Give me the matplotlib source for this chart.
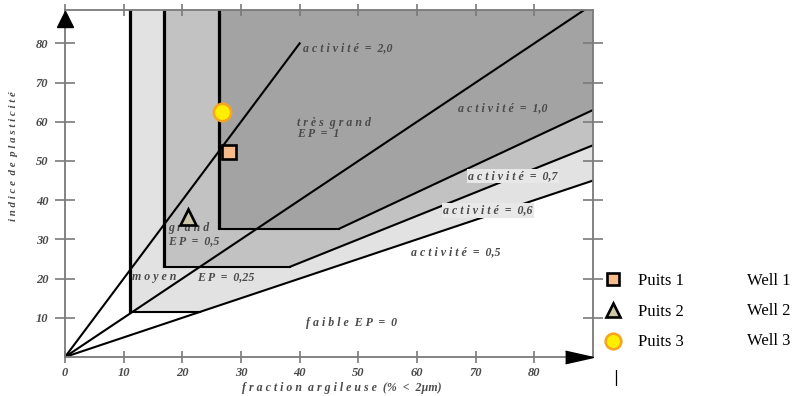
import matplotlib
matplotlib.use("Agg")
import matplotlib.pyplot as plt
from matplotlib.lines import Line2D

# ---- data ----
wells = ["Puits 1", "Puits 2", "Puits 3"]
wells_en = ["Well 1", "Well 2", "Well 3"]
clay_fraction = [27.9, 20.9, 26.7]
plasticity_index = [52.3, 35.7, 62.5]

x_ticks = [0, 10, 20, 30, 40, 50, 60, 70, 80]
y_ticks = [10, 20, 30, 40, 50, 60, 70, 80]

# zone limits: moyen, grand, tres grand
zone_clay = [11.1, 16.8, 26.3]
zone_pi = [11.5, 23.0, 32.7]
zone_activity = [0.5, 0.6, 0.7]
zone_colors = ["#e2e2e2", "#c2c2c2", "#a3a3a3"]

activity_from_origin = [2.0, 1.0, 0.5]
activity2_end_pi = 80

XMAX, YMAX = 90, 88.5

GRAY = "#7a7a7a"
TXT = "#4a4a4a"
SERIF = ["Liberation Serif", "DejaVu Serif"]

fig = plt.figure(figsize=(7.97, 3.96), dpi=100)
ax = fig.add_axes([65 / 797, 1 - 357 / 396, (593 - 65) / 797, (357 - 10) / 396])
ax.set_xlim(0, XMAX)
ax.set_ylim(0, YMAX)

# zones
for c, p, a, col in zip(zone_clay, zone_pi, zone_activity, zone_colors):
    xs = [c, c, p / a, XMAX, XMAX]
    ys = [YMAX, p, p, a * XMAX, YMAX]
    ax.fill(xs, ys, color=col, lw=0, zorder=1)

# zone boundary lines
for c, p, a in zip(zone_clay, zone_pi, zone_activity):
    ax.plot([c, c], [YMAX, p], color="black", lw=2.3, zorder=3, solid_capstyle="butt")
    ax.plot([c, p / a], [p, p], color="black", lw=1.5, zorder=3)
    if a != 0.5:
        ax.plot([p / a, XMAX], [p, a * XMAX], color="black", lw=1.5, zorder=3)

# activity lines from origin
for a in activity_from_origin:
    xe = activity2_end_pi / a if a == 2.0 else XMAX
    ax.plot([0, xe], [0, a * xe], color="black", lw=1.5, zorder=3)

# text labels
tk = dict(fontsize=8.6, fontweight="bold", style="italic", color=TXT, family=SERIF, zorder=4)
box = dict(boxstyle="square,pad=0.1", fc="#e8e8e8", ec="none")
ax.text(40.5, 78.8, "a c t i v i t é  =  2,0", va="center", **tk)
ax.text(39.6, 59.8, "t r è s  g r a n d", va="center", **tk)
ax.text(39.6, 56.8, "E P  =  1", va="center", **tk)
ax.text(67.0, 63.5, "a c t i v i t é  =  1,0", va="center", **tk)
ax.text(68.7, 46.2, "a c t i v i t é  =  0,7", va="center", bbox=box, **tk)
ax.text(64.4, 37.4, "a c t i v i t é  =  0,6", va="center", bbox=box, **tk)
ax.text(59.0, 26.8, "a c t i v i t é  =  0,5", va="center", **tk)
ax.text(41.0, 8.7, "f a i b l e  E P  =  0", va="center", **tk)
ax.text(17.6, 32.8, "g r a n d", va="center", **tk)
ax.text(17.6, 29.6, "E P  =  0,5", va="center", **tk)
ax.text(11.4, 20.4, "m o y e n", va="center", **tk)
ax.text(22.6, 20.4, "E P  =  0,25", va="center", **tk)

# wells
styles = [
    dict(marker="s", markersize=10, markerfacecolor="#f6bb8c", markeredgecolor="black", markeredgewidth=1.9),
    dict(marker="^", markersize=11, markerfacecolor="#ccc7a8", markeredgecolor="black", markeredgewidth=1.9),
    dict(marker="o", markersize=12.5, markerfacecolor="#ffee00", markeredgecolor="#f5a623", markeredgewidth=1.9),
]
handles = []
for xv, yv, st, lab in zip(clay_fraction, plasticity_index, styles, wells):
    ax.plot([xv], [yv], linestyle="none", zorder=5, **st)
    sl = dict(st)
    sl["markersize"] = st["markersize"] * 0.9
    handles.append(Line2D([], [], linestyle="none", label=lab, **sl))

# axes styling
for s in ax.spines.values():
    s.set_color(GRAY)
    s.set_linewidth(1.3)
    s.set_zorder(6)
ax.set_xticks(x_ticks)
ax.set_yticks(y_ticks)
ax.set_xticklabels([str(v) for v in x_ticks])
ax.set_yticklabels([str(v) for v in y_ticks])
ax.tick_params(axis="x", direction="inout", length=9, width=1.2, color=GRAY,
               top=True, labeltop=False, pad=3)
ax.tick_params(axis="y", which="major", direction="inout", length=14, width=1.2, color=GRAY,
               right=True, labelright=False, pad=5)
for lab in ax.get_xticklabels() + ax.get_yticklabels():
    lab.set_family(SERIF)
    lab.set_fontweight("bold")
    lab.set_style("italic")
    lab.set_color(TXT)
    lab.set_fontsize(9)

ax.set_xlabel("f r a c t i o n  a r g i l e u s e  (%  <  2µm)", fontsize=8.6, fontweight="bold",
              style="italic", color=TXT, family=SERIF)
ax.xaxis.label.set_va("center")
ax.xaxis.set_label_coords((342 - 65) / 528, -(388 - 357) / 347)
ax.set_ylabel("i n d i c e  d e  p l a s t i c i t é", fontsize=7.8, fontweight="bold",
              style="italic", color=TXT, family=SERIF)
ax.yaxis.set_label_coords(-0.089, 0.58)

# axis arrows
ax.plot([0], [YMAX - 2.2], marker="^", markersize=12, color="black", clip_on=False, zorder=7)
ax.plot([XMAX - 2.4], [0], marker=[(-1, -0.45), (1, 0), (-1, 0.45)], markersize=20,
        color="black", clip_on=False, zorder=7)

# legend
leg = fig.legend(handles=handles, loc="upper left", bbox_to_anchor=(605 / 797, 1 - 273 / 396),
                 frameon=False, prop={"family": SERIF, "size": 12}, labelspacing=0.88,
                 handletextpad=1.0, handlelength=1.0, borderpad=0, borderaxespad=0)
for i, t in enumerate(wells_en):
    fig.text(747 / 797, 1 - (281 + 30 * i) / 396, t, family=SERIF, fontsize=12,
             va="center", ha="left", color="black")
fig.text(616 / 797, 1 - 378 / 396, "|", family="DejaVu Sans", fontsize=11, va="center",
         ha="center", color="black")

fig.savefig("out.png", dpi=100)
